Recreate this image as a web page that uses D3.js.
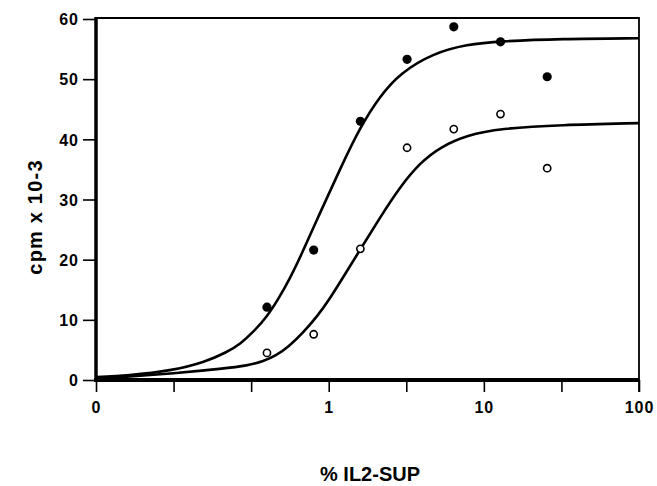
<!DOCTYPE html>
<html lang="en">
<head>
  <meta charset="UTF-8">
  <script src="https://d3js.org/d3.v7.min.js"></script>
  <title>cpm vs % IL2-SUP</title>
  <style>
    body { margin: 0; background: white; }
    svg text { font-family: "Liberation Sans", Arial, sans-serif; font-weight: bold; fill: black; }
  </style>
</head>
<body>
<div id="chart"></div>
<script>
  // measured points (doubling dilutions)
  var doses = [0.4, 0.8, 1.6, 3.2, 6.4, 12.8, 25.6];
  var filledVals = [12.1, 21.6, 43.0, 53.3, 58.7, 56.2, 50.4];
  var openVals = [4.5, 7.6, 21.8, 38.6, 41.7, 44.2, 35.2];

  // fitted curves
  var curveFilledX = [0.032, 0.05, 0.1, 0.16, 0.22, 0.27, 0.33, 0.4, 0.48, 0.56, 0.65, 0.88, 1.18, 1.59, 2.14, 2.88, 4.7, 7.8, 12.7, 31, 100];
  var curveFilledY = [0.5, 0.7, 1.6, 3.0, 4.6, 6.0, 8.1, 10.5, 13.7, 16.8, 20.2, 27.8, 35.0, 42.0, 47.2, 51.0, 54.3, 55.8, 56.3, 56.7, 56.8];
  var curveOpenX = [0.032, 0.047, 0.1, 0.21, 0.3, 0.38, 0.46, 0.55, 0.68, 0.84, 1.02, 1.18, 1.59, 2.14, 2.88, 3.88, 5.21, 7.8, 12.7, 31, 100];
  var curveOpenY = [0.3, 0.5, 1.1, 1.9, 2.4, 3.1, 4.1, 5.5, 7.8, 10.5, 13.6, 16.2, 21.6, 27.0, 32.1, 36.1, 38.7, 40.7, 41.8, 42.4, 42.7];

  var xTicks = [Math.pow(10, -1.5), 0.1, Math.pow(10, -0.5), 1, Math.pow(10, 0.5), 10, Math.pow(10, 1.5), 100];
  var xTickLabels = ["0", "", "", "1", "", "10", "", "100"];
  var yTicks = [0, 10, 20, 30, 40, 50, 60];

  var width = 657, height = 486;
  var mLeft = 96, mRight = 639, mTop = 19, mBottom = 380;

  var svg = d3.select("#chart").append("svg")
    .attr("width", width)
    .attr("height", height);

  var x = d3.scaleLog()
    .domain([Math.pow(10, -1.5), 100])
    .range([mLeft, mRight]);

  var y = d3.scaleLinear()
    .domain([0, 60])
    .range([mBottom, mTop]);

  // y axis
  var yAxis = svg.append("g")
    .attr("transform", "translate(" + mLeft + ",0)")
    .call(d3.axisLeft(y).tickValues(yTicks).tickSize(13).tickPadding(4).tickFormat(d3.format("d")));
  yAxis.select(".domain").remove();
  yAxis.selectAll(".tick line").attr("stroke", "black").attr("stroke-width", 1.6);
  yAxis.selectAll(".tick text")
    .style("font-size", "16px")
    .style("letter-spacing", "1px")
    .attr("dy", "0.36em");

  // x axis
  var xAxis = svg.append("g")
    .attr("transform", "translate(0," + mBottom + ")")
    .call(d3.axisBottom(x).tickValues(xTicks).tickSize(12).tickPadding(10)
      .tickFormat(function (d, i) { return xTickLabels[i]; }));
  xAxis.select(".domain").remove();
  xAxis.selectAll(".tick line").attr("stroke", "black").attr("stroke-width", 1.6);
  xAxis.selectAll(".tick text")
    .style("font-size", "16px")
    .style("letter-spacing", "1px");

  // frame
  svg.append("line").attr("x1", mLeft).attr("x2", mRight).attr("y1", mTop - 1).attr("y2", mTop - 1)
    .attr("stroke", "black").attr("stroke-width", 1.8);
  svg.append("line").attr("x1", mRight).attr("x2", mRight).attr("y1", mTop - 2).attr("y2", mBottom + 12)
    .attr("stroke", "black").attr("stroke-width", 1.8);
  svg.append("line").attr("x1", mLeft).attr("x2", mLeft).attr("y1", mTop - 2).attr("y2", mBottom + 2)
    .attr("stroke", "black").attr("stroke-width", 3.5);
  svg.append("line").attr("x1", mLeft - 2).attr("x2", mRight).attr("y1", mBottom).attr("y2", mBottom)
    .attr("stroke", "black").attr("stroke-width", 4);

  // curves
  var line = d3.line()
    .x(function (d) { return x(d[0]); })
    .y(function (d) { return y(d[1]); })
    .curve(d3.curveBasis);

  svg.append("path")
    .datum(d3.zip(curveFilledX, curveFilledY))
    .attr("d", line)
    .attr("fill", "none").attr("stroke", "black").attr("stroke-width", 2.6);

  svg.append("path")
    .datum(d3.zip(curveOpenX, curveOpenY))
    .attr("d", line)
    .attr("fill", "none").attr("stroke", "black").attr("stroke-width", 2.6);

  // points
  svg.selectAll(".filled")
    .data(d3.zip(doses, filledVals))
    .enter().append("circle")
    .attr("class", "filled")
    .attr("cx", function (d) { return x(d[0]); })
    .attr("cy", function (d) { return y(d[1]); })
    .attr("r", 4.6)
    .attr("fill", "black");

  svg.selectAll(".open")
    .data(d3.zip(doses, openVals))
    .enter().append("circle")
    .attr("class", "open")
    .attr("cx", function (d) { return x(d[0]); })
    .attr("cy", function (d) { return y(d[1]); })
    .attr("r", 3.6)
    .attr("fill", "white")
    .attr("stroke", "black")
    .attr("stroke-width", 1.6);

  // axis titles
  svg.append("text")
    .attr("x", 370)
    .attr("y", 481)
    .attr("text-anchor", "middle")
    .style("font-size", "20px")
    .text("% IL2-SUP");

  svg.append("text")
    .attr("transform", "translate(42,217) rotate(-90)")
    .attr("text-anchor", "middle")
    .style("font-size", "20px")
    .style("letter-spacing", "1.2px")
    .text("cpm x 10-3");
</script>
</body>
</html>
